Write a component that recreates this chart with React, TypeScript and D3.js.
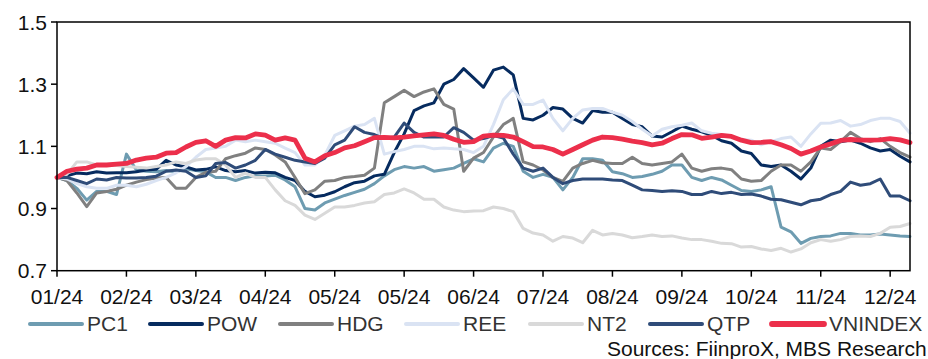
import React from "react";
import * as d3 from "d3";

// Relative performance (rebased to 1.0 at the first session of 2024).
// One value every 3 trading days; 258 trading days in total.
const DAY_STEP = 3;
const TOTAL_DAYS = 258;
const TICK_EVERY = 21;

const MONTH_LABELS = ["01/24", "02/24", "03/24", "04/24", "05/24", "05/24", "06/24", "07/24", "08/24", "09/24", "10/24", "11/24", "12/24"];
const Y_TICKS = [0.7, 0.9, 1.1, 1.3, 1.5];

const PC1 = [
  1.00, 0.99, 0.965, 0.927, 0.955, 0.955, 0.945, 1.075, 1.024, 1.02,
  1.018, 1.022, 1.018, 1.028, 1.022, 1.018, 1.0, 1.0, 0.99, 1.0,
  1.005, 1.005, 1.007, 0.992, 0.97, 0.9, 0.895, 0.918, 0.93, 0.942,
  0.952, 0.962, 0.98, 1.005, 1.025, 1.035, 1.03, 1.035, 1.02, 1.025,
  1.03, 1.045, 1.06, 1.05, 1.094, 1.11, 1.1, 1.02, 1.0, 1.01,
  1.0, 0.96, 1.0, 1.06, 1.06, 1.055, 1.018, 1.012, 1.0, 1.003,
  1.01, 1.02, 1.04, 1.04, 1.0, 0.99, 1.0, 0.992, 0.975, 0.958,
  0.955, 0.96, 0.97, 0.84, 0.825, 0.788, 0.804, 0.81, 0.812, 0.82,
  0.82, 0.815, 0.815, 0.818, 0.815, 0.812, 0.81,
];

const POW = [
  1.00, 1.005, 1.014, 1.012, 1.018, 1.014, 1.015, 1.015, 1.018, 1.024,
  1.026, 1.055, 1.04, 1.034, 1.024, 1.026, 1.034, 1.022, 1.018, 1.022,
  1.014, 1.017, 1.015, 1.0, 0.99, 0.955, 0.938, 0.943, 0.954, 0.97,
  0.983, 0.988, 1.005, 1.01, 1.08, 1.14, 1.215, 1.23, 1.24, 1.30,
  1.315, 1.35, 1.32, 1.29, 1.345, 1.355, 1.33, 1.19, 1.185, 1.20,
  1.225, 1.22, 1.19, 1.175, 1.215, 1.21, 1.21, 1.19, 1.17, 1.163,
  1.133, 1.13, 1.147, 1.165, 1.155, 1.147, 1.135, 1.118, 1.11, 1.085,
  1.077, 1.04, 1.035, 1.04, 1.02, 0.995, 1.03, 1.10, 1.12, 1.115,
  1.12, 1.11, 1.095, 1.085, 1.09, 1.068, 1.05,
];

const HDG = [
  1.00, 0.99, 0.95, 0.906, 0.95, 0.955, 0.962, 0.975, 0.985, 0.993,
  0.998, 1.0, 0.965, 0.965, 1.0, 1.016, 1.02, 1.06, 1.07, 1.078,
  1.095, 1.09, 1.072, 1.05, 1.0, 0.948, 0.96, 0.988, 0.99, 1.0,
  1.003, 1.007, 1.03, 1.24, 1.26, 1.28, 1.26, 1.275, 1.285, 1.235,
  1.22, 1.02, 1.062, 1.08, 1.13, 1.17, 1.19, 1.05, 1.04, 1.024,
  1.0, 0.987, 1.03, 1.045, 1.055, 1.047, 1.045, 1.045, 1.065, 1.045,
  1.04, 1.045, 1.05, 1.075, 1.03, 1.02, 1.028, 1.03, 1.025, 0.995,
  0.988, 0.99, 1.02, 1.04, 1.04, 1.02, 1.05, 1.095, 1.09, 1.115,
  1.145, 1.125, 1.115, 1.125, 1.1, 1.08, 1.065,
];

const REE = [
  1.00, 0.995, 0.98, 0.97, 0.965, 0.965, 0.975, 0.975, 0.97, 0.978,
  0.99, 1.0, 1.015, 1.035, 1.065, 1.09, 1.095, 1.1, 1.12, 1.115,
  1.12, 1.115, 1.11, 1.094, 1.08, 1.04, 1.04, 1.072, 1.135, 1.15,
  1.165, 1.17, 1.19, 1.075, 1.083, 1.09, 1.1, 1.1, 1.092, 1.095,
  1.092, 1.09, 1.08, 1.10, 1.17, 1.25, 1.285, 1.235, 1.235, 1.249,
  1.19, 1.15, 1.19, 1.217, 1.222, 1.222, 1.21, 1.2, 1.18, 1.155,
  1.133, 1.155, 1.163, 1.168, 1.175, 1.15, 1.142, 1.138, 1.131, 1.122,
  1.12, 1.105, 1.115, 1.125, 1.13, 1.10, 1.14, 1.174, 1.175, 1.183,
  1.165, 1.17, 1.183, 1.19, 1.19, 1.18, 1.142,
];

const NT2 = [
  1.00, 1.01, 1.05, 1.05, 1.04, 1.04, 1.038, 1.035, 1.033, 1.03,
  1.035, 1.04, 1.05, 1.045, 1.056, 1.06, 1.06, 1.04, 1.0, 1.014,
  1.0, 1.0, 0.96, 0.925, 0.91, 0.879, 0.865, 0.885, 0.905, 0.905,
  0.91, 0.918, 0.922, 0.945, 0.95, 0.963, 0.95, 0.93, 0.93, 0.905,
  0.895, 0.89, 0.892, 0.893, 0.905, 0.9, 0.89, 0.836, 0.821, 0.815,
  0.795, 0.81, 0.805, 0.79, 0.83, 0.815, 0.82, 0.815, 0.806, 0.81,
  0.815, 0.81, 0.812, 0.805, 0.8, 0.8, 0.795, 0.788, 0.787, 0.776,
  0.778, 0.77, 0.765, 0.772, 0.76, 0.77, 0.79, 0.80, 0.795, 0.80,
  0.81, 0.812, 0.81, 0.82, 0.84, 0.842, 0.852,
];

const QTP = [
  1.00, 1.0, 0.99, 0.98, 0.995, 0.992, 1.0, 0.998, 0.998, 1.0,
  1.004, 1.02, 1.024, 1.02, 1.0, 1.005, 1.045, 1.048, 1.03, 1.04,
  1.055, 1.09, 1.075, 1.065, 1.055, 1.05, 1.045, 1.062, 1.105, 1.12,
  1.163, 1.145, 1.138, 1.125, 1.13, 1.175, 1.145, 1.13, 1.13, 1.13,
  1.16, 1.145, 1.12, 1.125, 1.135, 1.127, 1.075, 1.03, 1.02, 1.03,
  1.0, 0.98, 0.99, 0.995, 0.995, 0.995, 0.992, 0.99, 0.975, 0.96,
  0.958, 0.955, 0.957, 0.955, 0.945, 0.945, 0.955, 0.948, 0.952, 0.945,
  0.947, 0.94, 0.93, 0.928, 0.92, 0.912, 0.925, 0.93, 0.945, 0.955,
  0.985, 0.975, 0.98, 0.995, 0.94, 0.94, 0.925,
];

const VNINDEX = [
  1.00, 1.02, 1.027, 1.03, 1.04, 1.04, 1.043, 1.045, 1.056, 1.062,
  1.065, 1.078, 1.08, 1.098, 1.113, 1.118, 1.10, 1.12, 1.128, 1.127,
  1.14, 1.136, 1.12, 1.127, 1.12, 1.062, 1.05, 1.07, 1.08, 1.095,
  1.102, 1.115, 1.128, 1.129, 1.127, 1.13, 1.134, 1.137, 1.14, 1.135,
  1.123, 1.113, 1.115, 1.133, 1.136, 1.135, 1.13, 1.115, 1.099, 1.098,
  1.09, 1.075, 1.09, 1.105, 1.12, 1.13, 1.128, 1.123, 1.117, 1.112,
  1.105, 1.11, 1.125, 1.138, 1.137, 1.126, 1.13, 1.135, 1.132, 1.12,
  1.112, 1.113, 1.115, 1.105, 1.093, 1.075, 1.085, 1.098, 1.108, 1.119,
  1.122, 1.12, 1.12, 1.121, 1.125, 1.121, 1.112,
];

const SERIES_NAMES = ["PC1", "POW", "HDG", "REE", "NT2", "QTP", "VNINDEX"];
const SERIES_VALUES = [PC1, POW, HDG, REE, NT2, QTP, VNINDEX];
const SERIES_COLORS = ["#6E9CB1", "#062B5F", "#808080", "#DAE3F3", "#D9D9D9", "#2F4C79", "#EC2F4B"];
const SERIES_WIDTHS = [3, 3, 3, 3, 3, 3, 4.8];

const W = 928;
const H = 359;
const M = { left: 57, right: 910, top: 22, bottom: 270.7 };
const FONT = "'Liberation Sans', Arial, Helvetica, sans-serif";
const FS = 21;

// Legend item starts (line segment left ends)
const LEGEND_X = [30, 150, 280, 406, 530, 650, 772];
const LEGEND_LINE = 52;

export default function App() {
  const x = d3.scaleLinear().domain([0, TOTAL_DAYS]).range([M.left, M.right]);
  const y = d3.scaleLinear().domain([0.7, 1.5]).range([M.bottom, M.top]);
  const line = d3
    .line<number>()
    .x((_, i) => x(i * DAY_STEP))
    .y((d) => y(d));

  const fmt = d3.format(".1f");

  return (
    <svg
      width={W}
      height={H}
      viewBox={`0 0 ${W} ${H}`}
      style={{ position: "absolute", left: 0, top: 0, display: "block", background: "#fff" }}
      fontFamily={FONT}
    >
      <rect x={0} y={0} width={W} height={H} fill="#fff" />

      {/* series */}
      <g fill="none" strokeLinejoin="round" strokeLinecap="round">
        {SERIES_VALUES.map((vals, si) => (
          <path
            key={SERIES_NAMES[si]}
            d={line(vals) || ""}
            stroke={SERIES_COLORS[si]}
            strokeWidth={SERIES_WIDTHS[si]}
          />
        ))}
      </g>

      {/* plot frame */}
      <rect
        x={M.left}
        y={M.top}
        width={M.right - M.left}
        height={M.bottom - M.top}
        fill="none"
        stroke="#000"
        strokeWidth={1.5}
      />

      {/* y axis */}
      <g>
        {Y_TICKS.map((t) => (
          <g key={t}>
            <line x1={M.left - 6} x2={M.left} y1={y(t)} y2={y(t)} stroke="#000" strokeWidth={1.5} />
            <text
              x={M.left - 10}
              y={y(t)}
              dy="0.36em"
              textAnchor="end"
              fontSize={FS}
              fill="#111"
            >
              {fmt(t)}
            </text>
          </g>
        ))}
      </g>

      {/* x axis */}
      <g>
        {MONTH_LABELS.map((lab, i) => {
          const tx = x(i * TICK_EVERY);
          return (
            <g key={i}>
              <line x1={tx} x2={tx} y1={M.bottom} y2={M.bottom + 6} stroke="#000" strokeWidth={1.5} />
              <text x={tx} y={304} textAnchor="middle" fontSize={FS} fill="#111">
                {lab}
              </text>
            </g>
          );
        })}
      </g>

      {/* legend */}
      <g>
        {SERIES_NAMES.map((name, i) => (
          <g key={name}>
            <line
              x1={LEGEND_X[i]}
              x2={LEGEND_X[i] + LEGEND_LINE}
              y1={324}
              y2={324}
              stroke={SERIES_COLORS[i]}
              strokeWidth={SERIES_WIDTHS[i] + 1}
              strokeLinecap="round"
            />
            <text x={LEGEND_X[i] + LEGEND_LINE + 5} y={331} fontSize={FS} fill="#333">
              {name}
            </text>
          </g>
        ))}
      </g>

      {/* source note */}
      <text x={607} y={356} fontSize={FS} fill="#111">
        Sources: FiinproX, MBS Research
      </text>
    </svg>
  );
}
